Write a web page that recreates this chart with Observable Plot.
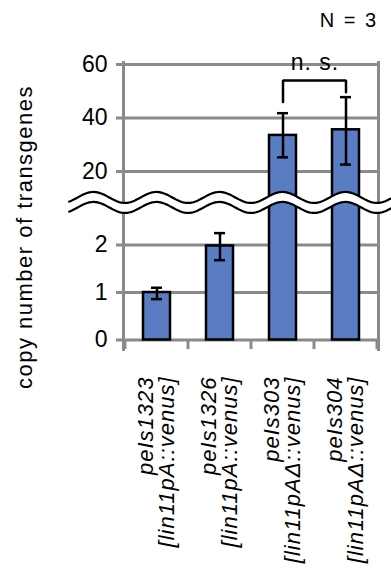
<!DOCTYPE html>
<html>
<head>
<meta charset="utf-8">
<script src="https://cdn.jsdelivr.net/npm/d3@7"></script>
<script src="https://cdn.jsdelivr.net/npm/@observablehq/plot@0.6"></script>
<style>
  html, body { margin: 0; padding: 0; background: #fff; }
  body { width: 391px; font-family: "Liberation Sans", Arial, sans-serif; }
  #note { height: 44px; line-height: 40px; text-align: right; padding-right: 15px; font-size: 20px; word-spacing: 4px; color: #000; }
  #chart svg { display: block; }
</style>
</head>
<body>
<div id="note">N = 3</div>
<div id="chart"></div>
<script>
// ---- data ----
const strains = ["peIs1323", "peIs1326", "peIs303", "peIs304"];
const constructs = ["[lin11pA::venus]", "[lin11pA::venus]", "[lin11pAΔ::venus]", "[lin11pAΔ::venus]"];
const means = [1.0, 1.98, 33.5, 35.6];
const errLow = [0.86, 1.68, 25.3, 22.6];
const errHigh = [1.1, 2.25, 41.8, 47.8];
const yTicks = [0, 1, 2, 20, 40, 60];
const yBreakDomain = [0, 2.8, 12.5, 60];   // broken axis: 0–2.8 below, 12.5–60 above
const axisBreak = [2.78, 8.5];             // values where the two wavy break lines sit
const bracketGroups = ["peIs303", "peIs303", "peIs304", "peIs304"];
const bracketY = [46, 54, 54, 49.6];
const sigLabel = "n. s.";
const sigY = 60.6;
const yTitle = "copy number of transgenes";

// ---- tables built from the arrays ----
const data = strains.map((s, i) => ({strain: s, mean: means[i], lo: errLow[i], hi: errHigh[i]}));
const bracket = bracketGroups.map((g, i) => ({g, v: bracketY[i]}));

const grid = "#8a8a8a";
const barFill = "#5a7cc2";

const chart = Plot.plot({
  width: 391,
  height: 528,
  marginLeft: 123,
  marginRight: 13,
  marginTop: 18,
  marginBottom: 223,
  style: {fontFamily: "'Liberation Sans', Arial, sans-serif", fontSize: "22px", background: "#fff", overflow: "visible", color: "#000"},
  x: {domain: strains, padding: 0, label: null},
  y: {type: "linear", domain: yBreakDomain, range: [295.5, 162.5, 147.1, 20], label: null},
  marks: [
    Plot.gridY(yTicks, {stroke: grid, strokeOpacity: 1, strokeWidth: 3}),
    Plot.axisY(yTicks, {tickSize: 7, tickPadding: 9, stroke: grid, strokeOpacity: 1, strokeWidth: 3, fill: "#000", fontSize: 23, tickFormat: d => String(d), label: null}),
    Plot.frame({anchor: "left", stroke: grid, strokeWidth: 3}),
    Plot.frame({anchor: "right", stroke: grid, strokeWidth: 3}),
    Plot.barY(data, {x: "strain", y: "mean", fill: barFill, stroke: "#000", strokeWidth: 2.5, insetLeft: 18, insetRight: 18}),
    Plot.ruleX(data, {x: "strain", y1: "lo", y2: "hi", stroke: "#000", strokeWidth: 2.5}),
    Plot.tickY(data, {x: "strain", y: "lo", stroke: "#000", strokeWidth: 2.5, insetLeft: 26, insetRight: 26}),
    Plot.tickY(data, {x: "strain", y: "hi", stroke: "#000", strokeWidth: 2.5, insetLeft: 26, insetRight: 26}),
    Plot.line(bracket, {x: "g", y: "v", stroke: "#000", strokeWidth: 2.5, strokeLinejoin: "miter"}),
    Plot.text([sigLabel], {x: () => strains[2], y: () => sigY, text: d => d, dx: 32, fontSize: 23, fill: "#000"}),
    Plot.axisX({tickSize: 0, tickPadding: 30, tickRotate: -90, fontSize: 22, fontStyle: "italic", lineHeight: 0.96, dy: -3,
      tickFormat: d => d + "\n" + constructs[strains.indexOf(d)], label: null, fill: "#000"}),
    Plot.text([yTitle], {frameAnchor: "left", textAnchor: "middle", text: d => d, dx: -99, dy: 31, rotate: -90, fontSize: 22, fill: "#000"})
  ]
});
document.getElementById("chart").append(chart);

const svg = d3.select(chart);
svg.selectAll("g[aria-label='x-axis tick label'] text").style("letter-spacing", "1px");
svg.selectAll("text").filter(function() { return this.textContent === yTitle; }).style("letter-spacing", "1.5px");
svg.selectAll("text").filter(function() { return this.textContent === sigLabel; }).style("letter-spacing", "1px");

// ---- category boundary ticks and the axis-break waves, positioned with Plot's scales ----
const xs = chart.scale("x"), ys = chart.scale("y");
const step = xs.step;
const x0 = xs.apply(strains[0]);
const yBase = ys.apply(0);
for (let i = 0; i <= strains.length; i++) {
  const bx = x0 + i * step;
  svg.append("line").attr("x1", bx).attr("x2", bx).attr("y1", yBase).attr("y2", yBase + 9.5)
    .attr("stroke", grid).attr("stroke-width", 3);
}
const amp = 5.5;
const phase = x0 + step / 2;
const xStart = x0 - 0.9 * step, xEnd = 391;
const wave = c => d3.range(xStart, xEnd + 1, 1).map(x => [x, c - amp * Math.cos(2 * Math.PI * (x - phase) / step)]);
const upper = wave(ys.apply(axisBreak[1]));
const lower = wave(ys.apply(axisBreak[0]));
svg.append("path").attr("d", d3.line()(upper.concat(lower.slice().reverse())) + "Z").attr("fill", "#fff");
for (const w of [upper, lower]) {
  svg.append("path").attr("d", d3.line()(w)).attr("fill", "none").attr("stroke", "#000").attr("stroke-width", 2.2);
}
</script>
</body>
</html>
